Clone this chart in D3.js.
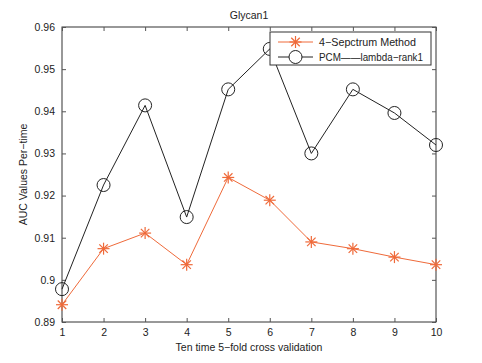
<!DOCTYPE html>
<html><head><meta charset="utf-8">
<script src="https://cdn.jsdelivr.net/npm/d3@7"></script>
<style>
body{margin:0;background:#fff;}
text{font-family:"Liberation Sans",Arial,sans-serif;fill:#222;}
</style></head>
<body>
<svg id="chart" width="482" height="363"></svg>
<script>
const folds = [1,2,3,4,5,6,7,8,9,10];
const spectrum = [0.8941,0.9074,0.9111,0.9036,0.9243,0.9189,0.9090,0.9074,0.9054,0.9036];
const pcm = [0.8978,0.9225,0.9414,0.9149,0.9452,0.9548,0.9300,0.9452,0.9396,0.9320];
const yTicks = [0.89,0.90,0.91,0.92,0.93,0.94,0.95,0.96];
const seriesNames = ["4\u2212Sepctrum Method","PCM\u2014\u2014lambda\u2212rank1"];
const title = "Glycan1";
const xTitle = "Ten time 5\u2212fold cross validation";
const yTitle = "AUC Values Per\u2212time";

const svg = d3.select("#chart");
const L=62,R=436,T=27,B=322;
const x = d3.scaleLinear().domain([1,10]).range([L,R]);
const y = d3.scaleLinear().domain([0.89,0.96]).range([B,T]);
const orange = "#ef6a3a";

svg.append("rect").attr("x",L).attr("y",T).attr("width",R-L).attr("height",B-T)
  .attr("fill","none").attr("stroke","#333").attr("stroke-width",1);

const fmt = d => String(+d.toFixed(2));
const tl = 4;
svg.append("g").attr("transform",`translate(0,${B})`)
  .call(d3.axisBottom(x).tickValues(folds).tickSize(-tl).tickPadding(7).tickFormat(d3.format("d")))
  .call(g=>{g.select(".domain").remove();g.selectAll("line").attr("stroke","#555");g.selectAll("text").attr("font-size",10.5).attr("fill","#222");});
svg.append("g").attr("transform",`translate(0,${T})`)
  .call(d3.axisTop(x).tickValues(folds).tickSize(-tl).tickFormat(""))
  .call(g=>{g.select(".domain").remove();g.selectAll("line").attr("stroke","#555");});
svg.append("g").attr("transform",`translate(${L},0)`)
  .call(d3.axisLeft(y).tickValues(yTicks).tickSize(-tl).tickPadding(7).tickFormat(fmt))
  .call(g=>{g.select(".domain").remove();g.selectAll("line").attr("stroke","#555");g.selectAll("text").attr("font-size",10.5).attr("fill","#222");});
svg.append("g").attr("transform",`translate(${R},0)`)
  .call(d3.axisRight(y).tickValues(yTicks).tickSize(-tl).tickFormat(""))
  .call(g=>{g.select(".domain").remove();g.selectAll("line").attr("stroke","#555");});

const line = d3.line().x((d,i)=>x(folds[i])).y(d=>y(d));
svg.append("path").datum(pcm).attr("d",line).attr("fill","none").attr("stroke","#222").attr("stroke-width",1);
svg.append("path").datum(spectrum).attr("d",line).attr("fill","none").attr("stroke",orange).attr("stroke-width",1);

function star(g,cx,cy,r){
  const s=g.append("g").attr("transform",`translate(${cx},${cy})`).attr("stroke",orange).attr("stroke-width",1.2);
  for(const a of [0,45,90,135]){
    const rad=a*Math.PI/180;
    s.append("line").attr("x1",-r*Math.cos(rad)).attr("y1",-r*Math.sin(rad)).attr("x2",r*Math.cos(rad)).attr("y2",r*Math.sin(rad));
  }
}
const mk = svg.append("g");
pcm.forEach((v,i)=>mk.append("circle").attr("cx",x(folds[i])).attr("cy",y(v)).attr("r",6.5).attr("fill","none").attr("stroke","#222").attr("stroke-width",1));
spectrum.forEach((v,i)=>star(mk,x(folds[i]),y(v),6));

// legend
const lg = svg.append("g");
lg.append("rect").attr("x",270).attr("y",32).attr("width",161).attr("height",33).attr("fill","#fff").attr("stroke","#333").attr("stroke-width",1);
lg.append("line").attr("x1",278).attr("x2",313).attr("y1",42).attr("y2",42).attr("stroke",orange);
star(lg,295.5,42,6);
lg.append("line").attr("x1",278).attr("x2",313).attr("y1",57).attr("y2",57).attr("stroke","#222");
lg.append("circle").attr("cx",295.5).attr("cy",57).attr("r",6.5).attr("fill","#fff").attr("stroke","#222");
lg.append("text").attr("x",319).attr("y",45.5).attr("font-size",10.5).attr("textLength",97).attr("lengthAdjust","spacingAndGlyphs").text(seriesNames[0]);
lg.append("text").attr("x",319).attr("y",60.5).attr("font-size",10.5).attr("textLength",104).attr("lengthAdjust","spacingAndGlyphs").text(seriesNames[1]);

svg.append("text").attr("x",249).attr("y",19).attr("text-anchor","middle").attr("font-size",10.5).text(title);
svg.append("text").attr("x",249).attr("y",351).attr("text-anchor","middle").attr("font-size",10.5).text(xTitle);
svg.append("text").attr("transform",`translate(27,${(T+B)/2}) rotate(-90)`).attr("text-anchor","middle").attr("font-size",10.5).text(yTitle);
</script>
</body></html>
